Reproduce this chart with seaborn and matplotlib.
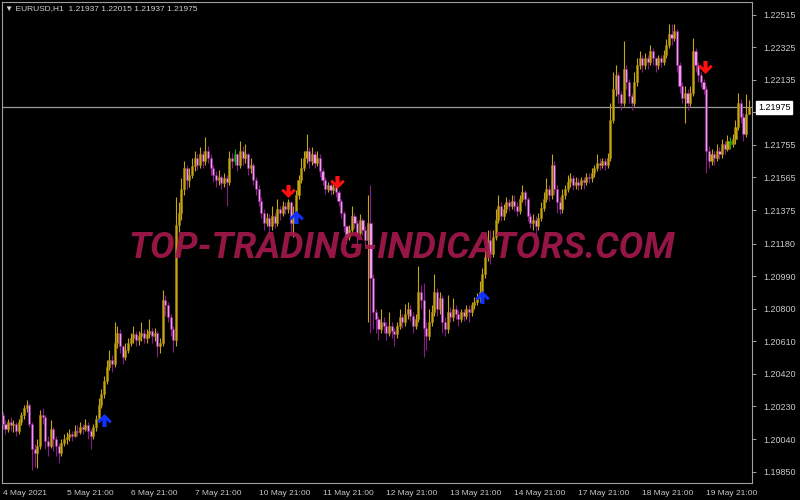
import numpy as np
import pandas as pd
import seaborn as sns
import matplotlib
matplotlib.use("Agg")
import matplotlib.pyplot as plt
from matplotlib.path import Path
import matplotlib.transforms as mtransforms

# ------------------------------ chart data ------------------------------------
# EURUSD H1, prices stored as pips above 1.1900
base_price = 1.1900
first_open = 118

closes = [
    113, 110, 114, 112, 113, 109, 114, 118, 122, 124, 113, 98, 96, 100, 118, 117, 103, 100, 110, 104, 100, 96, 102, 104,
    105, 107, 106, 109, 108, 111, 110, 112, 109, 106, 111, 116, 124, 130, 138, 146, 150, 148, 160, 166, 158, 152, 156, 160,
    163, 165, 162, 164, 166, 163, 165, 167, 164, 166, 158, 160, 185, 182, 175, 168, 162, 229, 236, 250, 262, 255, 258, 263,
    268, 264, 270, 266, 272, 268, 262, 258, 255, 257, 253, 256, 254, 268, 266, 270, 264, 272, 268, 270, 262, 264, 255, 250,
    243, 236, 230, 233, 228, 234, 230, 238, 236, 240, 238, 242, 230, 236, 246, 255, 262, 268, 272, 266, 270, 265, 268, 260,
    255, 250, 252, 249, 251, 248, 243, 236, 228, 222, 226, 234, 230, 224, 232, 226, 220, 230, 198, 178, 174, 168, 172, 170,
    166, 170, 167, 165, 170, 175, 172, 177, 180, 176, 170, 174, 190, 185, 169, 164, 172, 178, 190, 180, 186, 172, 168, 178,
    175, 180, 177, 174, 178, 176, 180, 178, 182, 184, 186, 190, 200, 210, 220, 212, 222, 232, 240, 234, 238, 242, 240, 243,
    240, 237, 244, 248, 244, 234, 230, 232, 228, 233, 239, 244, 250, 246, 264, 250, 242, 238, 246, 250, 254, 256, 252, 254,
    252, 255, 254, 257, 256, 259, 262, 265, 264, 266, 264, 268, 290, 308, 316, 305, 300, 320, 312, 304, 300, 312, 322, 326,
    322, 326, 324, 330, 326, 322, 326, 324, 328, 334, 340, 338, 342, 322, 310, 303, 306, 300, 306, 330, 322, 316, 312, 308,
    272, 266, 270, 268, 272, 270, 276, 273, 278, 276, 279, 286, 300, 292, 282, 293.7, 297.5,
]
highs = [
    120, 115, 116, 117, 115, 114, 116, 120, 124, 127, 125, 114, 101, 104, 121, 122, 118, 106, 115, 111, 106, 102, 104, 107,
    108, 110, 109, 112, 112, 114, 113, 116, 114, 110, 113, 118, 128, 133, 141, 150, 156, 153, 172, 170, 168, 159, 160, 163,
    166, 170, 167, 167, 172, 168, 168, 174, 169, 169, 167, 163, 191, 188, 184, 177, 170, 245, 242, 256, 266, 264, 262, 268,
    272, 270, 274, 272, 280, 275, 270, 264, 260, 261, 258, 259, 258, 272, 271, 273, 271, 278, 275, 276, 271, 268, 265, 257,
    252, 245, 238, 236, 235, 240, 236, 244, 240, 243, 242, 244, 243, 240, 249, 258, 268, 272, 282, 274, 274, 272, 272, 270,
    262, 257, 254, 253, 254, 252, 249, 244, 237, 229, 229, 240, 236, 232, 235, 233, 228, 246, 252, 200, 180, 176, 180, 175,
    172, 178, 172, 169, 172, 180, 177, 183, 184, 182, 178, 177, 205, 194, 195, 172, 180, 182, 200, 192, 190, 188, 175, 188,
    181, 186, 182, 179, 180, 180, 182, 182, 184, 187, 189, 196, 204, 214, 226, 226, 226, 238, 246, 242, 241, 245, 244, 246,
    246, 242, 246, 252, 249, 245, 236, 235, 234, 236, 242, 248, 256, 252, 270, 266, 252, 245, 250, 252, 258, 259, 258, 257,
    256, 257, 257, 259, 259, 262, 264, 270, 268, 268, 268, 271, 300, 318, 322, 318, 307, 336, 322, 314, 306, 318, 326, 330,
    328, 329, 328, 334, 332, 327, 328, 328, 331, 337, 346, 346, 346, 343, 324, 312, 310, 308, 310, 338, 332, 324, 318, 314,
    310, 275, 273, 272, 276, 274, 279, 278, 281, 280, 282, 290, 306, 302, 294, 305, 301.5,
]
lows = [
    110, 107, 108, 109, 108, 106, 107, 112, 116, 120, 111, 86, 88, 87, 98, 113, 98, 94, 99, 97, 94, 90, 94, 100,
    101, 103, 103, 105, 106, 107, 107, 109, 104, 98, 104, 109, 114, 122, 128, 136, 144, 143, 146, 157, 154, 148, 150, 154,
    158, 160, 158, 159, 161, 160, 160, 163, 160, 161, 152, 154, 158, 176, 172, 164, 155, 158, 225, 232, 246, 250, 251, 256,
    260, 261, 262, 262, 264, 265, 258, 254, 251, 252, 250, 251, 240, 252, 262, 264, 260, 262, 264, 265, 258, 259, 252, 246,
    240, 233, 226, 228, 224, 226, 227, 228, 232, 234, 235, 236, 225, 222, 234, 244, 253, 260, 265, 262, 264, 262, 263, 257,
    252, 247, 248, 246, 247, 245, 240, 233, 225, 218, 220, 224, 227, 216, 222, 223, 216, 172, 166, 168, 166, 162, 166, 166,
    162, 164, 163, 158, 163, 168, 169, 170, 174, 173, 166, 168, 172, 180, 152, 156, 162, 170, 176, 176, 177, 166, 164, 166,
    172, 173, 174, 170, 172, 173, 174, 172, 176, 180, 182, 184, 188, 198, 208, 206, 210, 220, 230, 231, 232, 236, 237, 238,
    237, 234, 235, 242, 240, 231, 227, 226, 222, 226, 231, 237, 242, 243, 244, 247, 236, 235, 236, 244, 248, 251, 249, 250,
    249, 250, 250, 252, 253, 254, 257, 260, 261, 262, 261, 262, 266, 288, 304, 300, 296, 298, 308, 300, 296, 298, 310, 320,
    318, 320, 320, 322, 322, 318, 320, 321, 322, 326, 332, 334, 336, 318, 306, 300, 288, 296, 298, 304, 318, 312, 309, 305,
    259, 262, 264, 264, 266, 267, 268, 270, 272, 273, 274, 276, 284, 288, 278, 280, 293.7,
]
green_bars = [87, 273]

# signal arrows: bar index and price (pips above base)
sell_bars = [107, 125.5, 263.5]
sell_pips = [248.5, 254, 321]
buy_bars = [38, 110, 180]
buy_pips = [115, 233.5, 187]

price_ticks = [1.22515, 1.22325, 1.22135, 1.21945, 1.21755, 1.21565, 1.21375,
               1.21180, 1.20990, 1.20800, 1.20610, 1.20420, 1.20230, 1.20040, 1.19850]
date_tick_bars = [0, 24, 48, 72, 96, 120, 144, 168, 192, 216, 240, 264]
date_labels = ["4 May 2021", "5 May 21:00", "6 May 21:00", "7 May 21:00",
               "10 May 21:00", "11 May 21:00", "12 May 21:00", "13 May 21:00",
               "14 May 21:00", "17 May 21:00", "18 May 21:00", "19 May 21:00"]
last_price = 1.21975
header = "\u25bc EURUSD,H1  1.21937 1.22015 1.21937 1.21975"

# ------------------------------ build frame -----------------------------------
df = pd.DataFrame({"close": closes, "high": highs, "low": lows})
df["open"] = [first_open] + closes[:-1]
for col in ["open", "high", "low", "close"]:
    df[col] = base_price + df[col] / 10000.0
df["bar"] = np.arange(len(df))
df["bull"] = df["close"] >= df["open"]

bull_col, bull_edge = "#c6a614", "#a08408"
bear_col, bear_edge = "#ee9cee", "#8a1c8a"
green_col = "#10b010"

fill = np.where(df["bull"], bull_col, bear_col).astype(object)
edge = np.where(df["bull"], bull_edge, bear_edge).astype(object)
wick = np.where(df["bull"], bull_col, bear_edge).astype(object)
fill[green_bars] = green_col
edge[green_bars] = green_col
wick[green_bars] = green_col

# ------------------------------ plotting --------------------------------------
sns.set_theme(style="dark", rc={"axes.facecolor": "black", "figure.facecolor": "black"})
plt.rcParams["font.family"] = ["Liberation Sans", "DejaVu Sans"]

fig = plt.figure(figsize=(8, 5), dpi=100)
ax = fig.add_axes([2 / 800, 17 / 500, 750 / 800, 481 / 500])
ax.set_facecolor("black")

ax.axhline(last_price, color="#9a9a9a", lw=0.9, zorder=1)

ax.vlines(df["bar"], df["low"], df["high"], colors=list(wick), lw=0.8, zorder=2)
body_low = df[["open", "close"]].min(axis=1)
body_h = (df["close"] - df["open"]).abs().clip(lower=0.00004)
ax.bar(df["bar"], body_h, bottom=body_low, width=0.78, color=list(fill),
       edgecolor=list(edge), linewidth=0.4, zorder=3)

# arrow markers
down_arrow = Path([(-0.16, 0.5), (0.16, 0.5), (0.16, -0.02), (0.4, 0.22), (0.56, 0.06),
                   (0.0, -0.5), (-0.56, 0.06), (-0.4, 0.22), (-0.16, -0.02), (-0.16, 0.5)],
                  closed=True)
up_arrow = Path(down_arrow.vertices * np.array([1, -1]), closed=True)

sell_df = pd.DataFrame({"bar": sell_bars, "price": [base_price + p / 10000 for p in sell_pips]})
buy_df = pd.DataFrame({"bar": buy_bars, "price": [base_price + p / 10000 for p in buy_pips]})
sns.scatterplot(data=sell_df, x="bar", y="price", marker=down_arrow, s=110,
                color="#ff1010", edgecolor="#ff1010", linewidth=0, ax=ax, zorder=5)
sns.scatterplot(data=buy_df, x="bar", y="price", marker=up_arrow, s=110,
                color="#1030ff", edgecolor="#1030ff", linewidth=0, ax=ax, zorder=5)

ax.set_xlim(-0.3, 281.2)
ax.set_ylim(1.19784, 1.22588)
ax.set_xlabel("")
ax.set_ylabel("")

# axes styling
for sp in ax.spines.values():
    sp.set_color("#a0a0a0")
    sp.set_linewidth(0.8)
ax.grid(False)
ax.yaxis.tick_right()
ax.set_yticks(price_ticks)
# the label under the current-price box is hidden, as on the terminal
ax.set_yticklabels(["" if abs(p - last_price) < 0.0005 else f"{p:.5f}" for p in price_ticks])
ax.set_xticks(date_tick_bars)
ax.set_xticklabels(date_labels, ha="left")
ax.tick_params(axis="y", colors="#c8c8c8", labelsize=6.5, length=3, width=0.7,
               direction="out", pad=5)
ax.tick_params(axis="x", colors="#c8c8c8", labelsize=6.0, length=4, width=0.7,
               direction="out", pad=1)
ax.tick_params(axis="both", color="#a0a0a0")

# current price box
trans = mtransforms.blended_transform_factory(ax.transAxes, ax.transData)
ax.text(1.008, last_price, f"{last_price:.5f}", transform=trans, ha="left", va="center",
        fontsize=6.5, color="black", zorder=10, clip_on=False,
        bbox=dict(boxstyle="square,pad=0.22", fc="white", ec="white"))

# header
ax.text(0.004, 0.993, header, transform=ax.transAxes, ha="left", va="top",
        fontsize=6.0, color="#d0d0d0")

# watermark
ax.text(0.533, 0.489, "TOP-TRADING-INDICATORS.COM", transform=ax.transAxes,
        ha="center", va="center", fontsize=26.5, fontweight="bold", fontstyle="italic",
        family=["Roboto", "DejaVu Sans"], color="#a3194b", alpha=0.92, zorder=8)

fig.savefig("out.png", dpi=100, facecolor="black")
